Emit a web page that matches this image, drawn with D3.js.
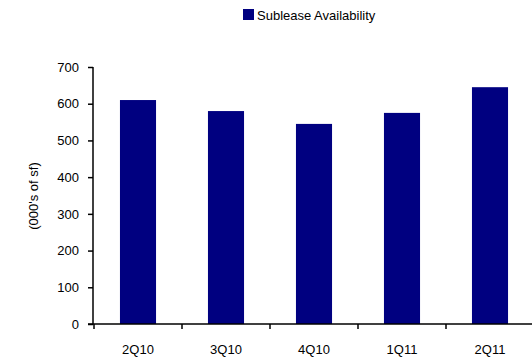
<!DOCTYPE html>
<html>
<head>
<meta charset="utf-8">
<script src="https://cdn.jsdelivr.net/npm/d3@7"></script>
<style>
  html, body { margin: 0; padding: 0; background: #fff; }
  svg { display: block; font-family: "Liberation Sans", Arial, sans-serif; }
</style>
</head>
<body>
<svg id="chart" width="532" height="358"></svg>
<script>
// quarters and sublease availability (000's of sf)
var quarters = ["2Q10", "3Q10", "4Q10", "1Q11", "2Q11"];
var sublease = [610, 580, 545, 575, 645];
var yTicks = [0, 100, 200, 300, 400, 500, 600, 700];

var svg = d3.select("#chart");
var mLeft = 93, mRight = 534, mTop = 67, mBottom = 324;
var fs = 13;

var x = d3.scaleBand().domain(quarters).range([mLeft + 1, mRight]).paddingInner(0.59).paddingOuter(0.295);
var y = d3.scaleLinear().domain([0, 700]).range([mBottom, mTop]);

svg.selectAll("rect.bar").data(quarters).enter().append("rect")
  .attr("class", "bar")
  .attr("x", function (d) { return x(d); })
  .attr("y", function (d, i) { return y(sublease[i]); })
  .attr("width", x.bandwidth())
  .attr("height", function (d, i) { return mBottom - y(sublease[i]); })
  .attr("fill", "#000080");

// y axis
var ya = svg.append("g").attr("transform", "translate(" + mLeft + ",0)")
  .call(d3.axisLeft(y).tickValues(yTicks).tickSize(5).tickPadding(9).tickFormat(d3.format("d")));
ya.select(".domain").attr("stroke", "#000").attr("stroke-width", 1.5).attr("d", "M0," + mTop + "V" + mBottom);
ya.selectAll(".tick line").attr("stroke", "#000").attr("stroke-width", 1.5);
ya.selectAll(".tick text").attr("font-size", fs).attr("fill", "#000")
  .attr("font-family", "Liberation Sans, Arial, sans-serif");

// x axis with ticks between categories
var step = x.step();
var bounds = d3.range(quarters.length + 1).map(function (i) { return mLeft + 1 + i * step; });
var xg = svg.append("g");
xg.append("line").attr("x1", mLeft - 5).attr("x2", 532).attr("y1", mBottom).attr("y2", mBottom)
  .attr("stroke", "#000").attr("stroke-width", 1.5);
xg.selectAll("line.xt").data(bounds).enter().append("line")
  .attr("class", "xt")
  .attr("x1", function (d) { return d; }).attr("x2", function (d) { return d; })
  .attr("y1", mBottom).attr("y2", mBottom + 5)
  .attr("stroke", "#000").attr("stroke-width", 1.5);
xg.selectAll("text").data(quarters).enter().append("text")
  .attr("x", function (d) { return x(d) + x.bandwidth() / 2; })
  .attr("y", 354)
  .attr("text-anchor", "middle")
  .attr("font-size", fs)
  .text(function (d) { return d; });

// y axis title
svg.append("text")
  .attr("transform", "translate(38,196) rotate(-90)")
  .attr("text-anchor", "middle")
  .attr("font-size", fs)
  .text("(000's of sf)");

// legend
svg.append("rect").attr("x", 243).attr("y", 9).attr("width", 11).attr("height", 11).attr("fill", "#000080");
svg.append("text").attr("x", 257).attr("y", 19.5).attr("font-size", fs).text("Sublease Availability");
</script>
</body>
</html>
